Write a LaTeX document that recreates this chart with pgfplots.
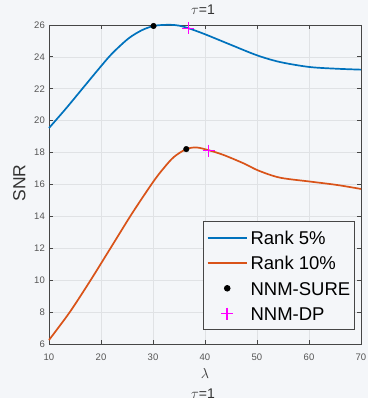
\documentclass[border=0pt]{standalone}
\usepackage{fontspec}
\setmainfont{Liberation Sans}
\usepackage{pgfplots}
\pgfplotsset{compat=1.18}
\definecolor{bgc}{RGB}{244,246,249}
\definecolor{gridc}{RGB}{224,226,229}
\definecolor{axc}{RGB}{70,70,70}
\definecolor{tickc}{RGB}{85,85,85}
\definecolor{mblue}{RGB}{0,114,189}
\definecolor{morange}{RGB}{217,83,25}
\definecolor{mmag}{RGB}{255,0,255}
\pgfplotsset{
  lineleg/.style={legend image code/.code={\draw[##1] (0pt,0pt) -- (39pt,0pt);}},
  markleg/.style={legend image code/.code={\draw[##1] plot coordinates {(19.5pt,0pt)};}},
}
\begin{document}
\begin{tikzpicture}
\fill[bgc] (0pt,0pt) rectangle (368pt,398pt);
\begin{axis}[
  at={(49pt,54pt)}, anchor=south west,
  scale only axis, width=312pt, height=319pt,
  xmin=10, xmax=70, ymin=6, ymax=26,
  xtick={10,20,...,70}, ytick={6,8,...,26},
  clip=false,
  grid=major,
  major grid style={draw=gridc, line width=0.7pt},
  axis line style={draw=axc, line width=0.9pt},
  tick align=inside, major tick length=4pt,
  tick style={draw=axc, line width=0.8pt},
  axis background/.style={fill=bgc},
  /pgf/number format/assume math mode=true,
  ticklabel style={font=\fontsize{9.5}{11}\selectfont, text=tickc},
  xticklabel style={inner sep=0pt, anchor=north, yshift=-10pt},
  yticklabel style={inner sep=0pt, anchor=east, xshift=-4pt},
  legend style={at={(0.495,0.3856)}, anchor=north west,
    draw=axc, line width=0.9pt, fill=bgc,
    font=\fontsize{18.5}{20}\selectfont,
    inner xsep=3pt, inner ysep=8.5pt,
    nodes={inner sep=1pt, text height=13.5pt, text depth=0pt},
    row sep=9.8pt, column sep=2pt},
  legend cell align=left,
]
\addplot[mblue, line width=1.7pt, smooth, tension=0.5, lineleg]
  coordinates {
  (10,19.54) (13.2,20.74) (16.4,22.0) (19.6,23.26) (22.1,24.2)
  (25.3,25.16) (27.9,25.68) (30.1,25.94) (31.8,26.0) (33.5,26.01)
  (35,25.96) (36.8,25.8) (40,25.42) (44.8,24.78) (50,24.1) (54.4,23.68)
  (60,23.37) (65.2,23.26) (70,23.2)};
\addlegendentry{Rank 5\%}
\addplot[morange, line width=1.7pt, smooth, tension=0.5, lineleg]
  coordinates {
  (10,6.25) (14,8.0) (18,10.0) (22,12.1) (26,14.2) (30,16.15)
  (32,17.0) (34,17.72) (36.4,18.22) (38.4,18.32)
  (40.7,18.15) (43.5,17.86) (47.4,17.33) (50.3,16.87) (54.4,16.43)
  (60.3,16.18) (65.4,15.97) (70,15.72)};
\addlegendentry{Rank 10\%}
\addplot[only marks, mark=*, mark size=2.8pt, black, markleg]
  coordinates {(30.1,25.94) (36.4,18.22)};
\addlegendentry{NNM-SURE}
\addplot[only marks, mark=+, mark size=6pt, mmag, line width=1.5pt, markleg]
  coordinates {(36.8,25.79) (40.7,18.13)};
\addlegendentry{NNM-DP}
\end{axis}
\node[font=\fontsize{17.5}{20}\selectfont, rotate=90, text=black!80] at (19.3pt,215pt) {SNR};
\node[font=\fontsize{14}{16}\selectfont, text=black!80] at (203pt,388pt) {$\tau$=1};
\node[font=\fontsize{14}{16}\selectfont, text=black!80] at (205pt,24pt) {$\lambda$};
\node[font=\fontsize{14}{16}\selectfont, text=black!80, anchor=base] at (203pt,-1pt) {$\tau$=1};
\pgfresetboundingbox
\useasboundingbox (0pt,0pt) rectangle (368pt,398pt);
\end{tikzpicture}
\end{document}
